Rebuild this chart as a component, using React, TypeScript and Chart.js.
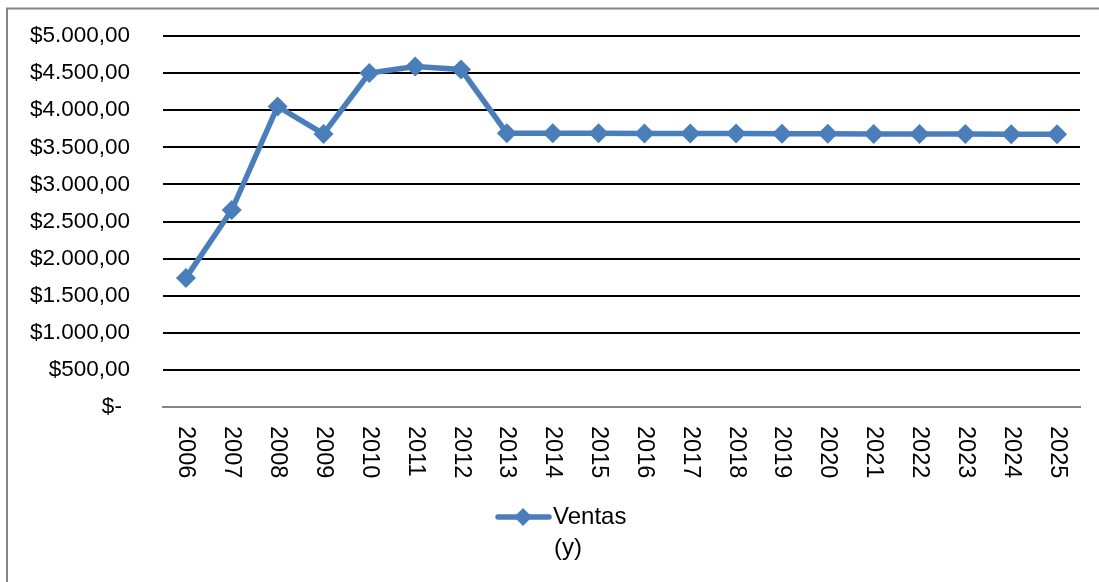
import React, { useEffect, useRef } from "react";
import { Chart, registerables } from "chart.js";

Chart.register(...registerables);

const years: string[] = [
  "2006", "2007", "2008", "2009", "2010", "2011", "2012", "2013", "2014", "2015",
  "2016", "2017", "2018", "2019", "2020", "2021", "2022", "2023", "2024", "2025",
];
const ventas: number[] = [
  1740, 2655, 4050, 3680, 4500, 4590, 4550, 3690, 3690, 3688,
  3687, 3686, 3685, 3684, 3682, 3680, 3679, 3678, 3677, 3676,
];
const seriesLabel = "Ventas";
const seriesLabelLine2 = "(y)";
const yMax = 5000;
const yStep = 500;

const BLUE = "#4A7EBB";
const FONT = "'Liberation Sans', Arial, sans-serif";

function fmt(v: number): string {
  if (v === 0) return "$- \u200A";
  const whole = Math.round(v).toString().replace(/\B(?=(\d{3})+(?!\d))/g, ".");
  return "$" + whole + ",00";
}

const frameAndLabels = {
  id: "frameAndLabels",
  beforeDraw(chart: any) {
    const ctx = chart.ctx;
    ctx.save();
    ctx.fillStyle = "#ffffff";
    ctx.fillRect(0, 0, chart.width, chart.height);
    ctx.strokeStyle = "#868686";
    ctx.lineWidth = 2;
    ctx.strokeRect(7, 8.5, 1300, 800);
    ctx.restore();
  },
  afterDraw(chart: any) {
    const ctx = chart.ctx;
    const xs = chart.scales.x;
    ctx.save();
    ctx.fillStyle = "#000000";
    ctx.font = `23.5px ${FONT}`;
    ctx.textAlign = "left";
    ctx.textBaseline = "middle";
    years.forEach((lab, i) => {
      const x = xs.getPixelForValue(i);
      ctx.save();
      ctx.translate(x, chart.chartArea.bottom + 19);
      ctx.rotate(Math.PI / 2);
      ctx.fillText(lab, 0, 0);
      ctx.restore();
    });
    // legend
    const ly = 517;
    ctx.strokeStyle = BLUE;
    ctx.lineWidth = 5.5;
    ctx.lineCap = "round";
    ctx.beginPath();
    ctx.moveTo(498, ly);
    ctx.lineTo(549, ly);
    ctx.stroke();
    ctx.fillStyle = BLUE;
    const cx = 523, r = 9;
    ctx.beginPath();
    ctx.moveTo(cx, ly - r);
    ctx.lineTo(cx + r, ly);
    ctx.lineTo(cx, ly + r);
    ctx.lineTo(cx - r, ly);
    ctx.closePath();
    ctx.fill();
    ctx.fillStyle = "#000000";
    ctx.font = `24px ${FONT}`;
    ctx.fillText(seriesLabel, 553, ly);
    ctx.fillText(seriesLabelLine2, 554, 548);
    ctx.restore();
  },
};

export default function App() {
  const ref = useRef<HTMLCanvasElement | null>(null);
  useEffect(() => {
    if (!ref.current) return;
    const chart = new Chart(ref.current, {
      type: "line",
      data: {
        labels: years,
        datasets: [
          {
            label: seriesLabel,
            data: ventas,
            borderColor: BLUE,
            backgroundColor: BLUE,
            borderWidth: 5.5,
            pointStyle: "rectRot",
            pointRadius: 10,
            pointBorderWidth: 0,
            pointBackgroundColor: BLUE,
            tension: 0,
          },
        ],
      },
      options: {
        animation: false,
        responsive: false,
        layout: { padding: { left: 0, top: 36, right: 19, bottom: 0 } },
        plugins: {
          legend: { display: false },
          tooltip: { enabled: false },
          title: { display: false },
        },
        scales: {
          x: {
            offset: true,
            grid: { display: false },
            border: { display: true, color: "#868686", width: 2 },
            ticks: { display: false },
            afterFit: (s: any) => {
              s.height = 175;
              s.paddingLeft = 0;
              s.paddingRight = 0;
            },
          },
          y: {
            min: 0,
            max: yMax,
            afterFit: (s: any) => {
              s.width = 163;
              s.paddingTop = 0;
              s.paddingBottom = 0;
            },
            border: { display: false },
            grid: {
              drawTicks: false,
              lineWidth: 2,
              color: (c: any) => (c.tick && c.tick.value === 0 ? "rgba(0,0,0,0)" : "#000000"),
            },
            ticks: {
              stepSize: yStep,
              padding: 33,
              color: "#000000",
              font: { family: FONT, size: 22.5 },
              callback: (v: any) => fmt(Number(v)),
            },
          },
        },
      },
      plugins: [frameAndLabels],
    });
    return () => chart.destroy();
  }, []);
  return (
    <div style={{ position: "fixed", left: 0, top: 0, width: 1099, height: 582, background: "#fff" }}>
      <canvas ref={ref} width={1099} height={582} style={{ display: "block" }} />
    </div>
  );
}
